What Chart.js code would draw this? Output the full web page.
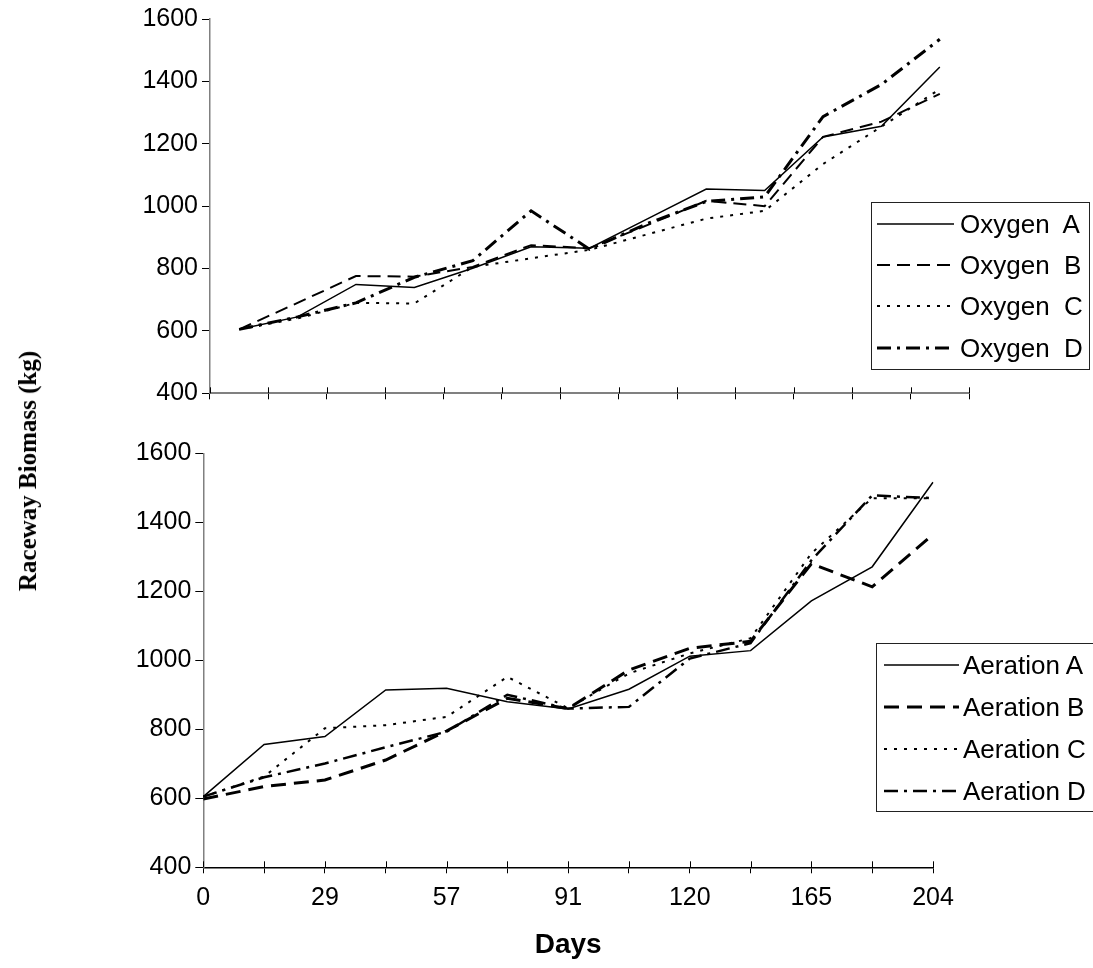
<!DOCTYPE html>
<html>
<head>
<meta charset="utf-8">
<title>Raceway Biomass</title>
<script src="https://cdn.jsdelivr.net/npm/chart.js@4/dist/chart.umd.min.js"></script>
<style>
  html, body { margin: 0; padding: 0; background: #fff; }
  #wrap { position: relative; width: 1093px; height: 968px; overflow: hidden;
          font-family: "Liberation Sans", Arial, sans-serif; color: #000; }
  canvas.panel { position: absolute; left: 0; }
  #ytitle { position: absolute; left: 28px; top: 471px; transform: translate(-50%, -50%) rotate(-90deg);
            font: bold 25px "Liberation Serif", "Times New Roman", serif; white-space: nowrap; }
  .legend { position: absolute; border: 1.5px solid #222; background: #fff; box-sizing: border-box; }
  .legend .row { position: absolute; height: 30px; display: flex; align-items: center;
                 white-space: pre; font-size: 26px; line-height: 30px; }
  .legend .row canvas { display: block; }
</style>
</head>
<body>
<div id="wrap">
  <canvas id="oxygenChart" class="panel" width="1093" height="430" style="top:0"></canvas>
  <canvas id="aerationChart" class="panel" width="1093" height="538" style="top:430px"></canvas>
  <div id="ytitle">Raceway Biomass (kg)</div>
  <div id="legendOxygen" class="legend" style="left:871px; top:202px; width:219px; height:168px"></div>
  <div id="legendAeration" class="legend" style="left:876px; top:643px; width:240px; height:169px"></div>
</div>
<script>
// Sampling days (only every second day is labelled on the axis)
const days = ['0', '', '29', '', '57', '', '91', '', '120', '', '165', '', '204'];

// Biomass axis range and step (kg)
const biomassTicks = [400, 600, 800, 1000, 1200, 1400, 1600];

// Oxygen-supplemented raceways (kg)
const oxygenA = [605, 645, 749, 739, 801, 870, 865, 960, 1055, 1050, 1222, 1256, 1446];
const oxygenB = [605, 690, 776, 774, 805, 875, 865, 940, 1017, 1000, 1222, 1271, 1360];
const oxygenC = [605, 640, 690, 688, 805, 833, 860, 910, 960, 985, 1135, 1255, 1375];
const oxygenD = [605, 645, 690, 772, 825, 985, 862, 945, 1015, 1030, 1287, 1390, 1535];

// Aerated raceways (kg)
const aerationA = [605, 756, 779, 914, 919, 880, 859, 916, 1012, 1028, 1172, 1271, 1516];
const aerationB = [598, 634, 653, 711, 795, 890, 860, 972, 1035, 1055, 1280, 1213, 1365];
const aerationC = [605, 663, 803, 812, 836, 952, 861, 962, 1020, 1064, 1310, 1470, 1470];
const aerationD = [605, 661, 701, 748, 793, 900, 860, 865, 1005, 1050, 1290, 1478, 1470];

Chart.defaults.font.family = '"Liberation Sans", Arial, sans-serif';
Chart.defaults.color = '#000';

// Short upward half of each x tick mark so the marks cross the axis line
const crossTicks = {
  id: 'crossTicks',
  afterDraw(chart, args, opts) {
    const x = chart.scales.x;
    const ctx = chart.ctx;
    const n = chart.data.labels.length;
    const offset = x.options.offset;
    const count = offset ? n + 1 : n;
    ctx.save();
    ctx.strokeStyle = '#000';
    ctx.lineWidth = 1;
    ctx.beginPath();
    for (let i = 0; i < count; i++) {
      const px = Math.round(x.getPixelForValue(offset ? i - 0.5 : i)) + 0.5;
      ctx.moveTo(px, x.top - opts.up);
      ctx.lineTo(px, x.top);
    }
    ctx.stroke();
    ctx.restore();
  }
};

// Boxed legend built from the chart's own legend items
const htmlLegend = {
  id: 'htmlLegend',
  afterUpdate(chart, args, opts) {
    const box = document.getElementById(opts.containerID);
    box.innerHTML = '';
    const items = chart.options.plugins.legend.labels.generateLabels(chart);
    items.forEach((item, i) => {
      const row = document.createElement('div');
      row.className = 'row';
      row.style.left = opts.left + 'px';
      row.style.top = (opts.firstRow + i * opts.rowGap - 15) + 'px';
      const c = document.createElement('canvas');
      c.width = opts.sampleWidth;
      c.height = 10;
      c.style.marginRight = opts.gap + 'px';
      const g = c.getContext('2d');
      g.strokeStyle = item.strokeStyle;
      g.lineWidth = item.lineWidth;
      g.setLineDash(item.lineDash || []);
      g.beginPath();
      g.moveTo(0, 5);
      g.lineTo(opts.sampleWidth, 5);
      g.stroke();
      const span = document.createElement('span');
      span.textContent = item.text;
      row.appendChild(c);
      row.appendChild(span);
      box.appendChild(row);
    });
  }
};

function yScale(axisWidth) {
  return {
    min: biomassTicks[0],
    max: biomassTicks[biomassTicks.length - 1],
    ticks: {
      stepSize: biomassTicks[1] - biomassTicks[0],
      font: { size: 25 },
      color: '#000',
      padding: 4,
      callback: v => String(v)
    },
    grid: { drawOnChartArea: false, color: '#000', tickLength: 8, lineWidth: 1 },
    border: { color: '#808080', width: 1.5 },
    afterFit(s) { s.width = axisWidth; }
  };
}

const common = {
  responsive: false,
  animation: false,
  devicePixelRatio: 1,
  elements: {
    point: { radius: 0, hoverRadius: 0 },
    line: { tension: 0, borderColor: '#000', fill: false, borderCapStyle: 'butt', borderJoinStyle: 'miter' }
  },
  events: []
};

new Chart(document.getElementById('oxygenChart'), {
  type: 'line',
  data: {
    labels: days,
    datasets: [
      { label: 'Oxygen  A', data: oxygenA, borderColor: '#000', borderWidth: 1.5 },
      { label: 'Oxygen  B', data: oxygenB, borderColor: '#000', borderWidth: 2, borderDash: [13, 7] },
      { label: 'Oxygen  C', data: oxygenC, borderColor: '#000', borderWidth: 2, borderDash: [3, 7] },
      { label: 'Oxygen  D', data: oxygenD, borderColor: '#000', borderWidth: 3, borderDash: [14, 6, 3, 6] }
    ]
  },
  options: Object.assign({}, common, {
    layout: { padding: { left: 0, right: 124, top: 19, bottom: 0 } },
    plugins: {
      legend: { display: false },
      tooltip: { enabled: false },
      crossTicks: { up: 6 },
      htmlLegend: { containerID: 'legendOxygen', left: 5, firstRow: 20.5, rowGap: 41.4, sampleWidth: 77, gap: 6 }
    },
    scales: {
      x: {
        type: 'category',
        offset: true,
        ticks: { display: false, autoSkip: false },
        grid: { offset: true, drawOnChartArea: false, color: '#000', tickLength: 6, lineWidth: 1 },
        border: { color: '#808080', width: 2 },
        afterFit(s) { s.height = 36.7; }
      },
      y: yScale(210)
    }
  }),
  plugins: [crossTicks, htmlLegend]
});

new Chart(document.getElementById('aerationChart'), {
  type: 'line',
  data: {
    labels: days,
    datasets: [
      { label: 'Aeration A', data: aerationA, borderColor: '#000', borderWidth: 1.5 },
      { label: 'Aeration B', data: aerationB, borderColor: '#000', borderWidth: 3, borderDash: [15, 8] },
      { label: 'Aeration C', data: aerationC, borderColor: '#000', borderWidth: 2, borderDash: [3, 7] },
      { label: 'Aeration D', data: aerationD, borderColor: '#000', borderWidth: 2.5, borderDash: [14, 6, 3, 6] }
    ]
  },
  options: Object.assign({}, common, {
    layout: { padding: { left: 0, right: 160, top: 23.3, bottom: 0 } },
    plugins: {
      legend: { display: false },
      tooltip: { enabled: false },
      crossTicks: { up: 6 },
      htmlLegend: { containerID: 'legendAeration', left: 7, firstRow: 20.5, rowGap: 42, sampleWidth: 75, gap: 4 }
    },
    scales: {
      x: {
        type: 'category',
        offset: false,
        ticks: { autoSkip: false, maxRotation: 0, font: { size: 25 }, color: '#000', padding: 10 },
        grid: { drawOnChartArea: false, color: '#000', tickLength: 6, lineWidth: 1 },
        border: { color: '#000', width: 1.5 },
        title: { display: true, text: 'Days', font: { size: 28, weight: 'bold' }, color: '#000', padding: { top: 0, bottom: 6 } },
        afterFit(s) { s.height = 100.7; }
      },
      y: yScale(203.3)
    }
  }),
  plugins: [crossTicks, htmlLegend]
});
</script>
</body>
</html>
